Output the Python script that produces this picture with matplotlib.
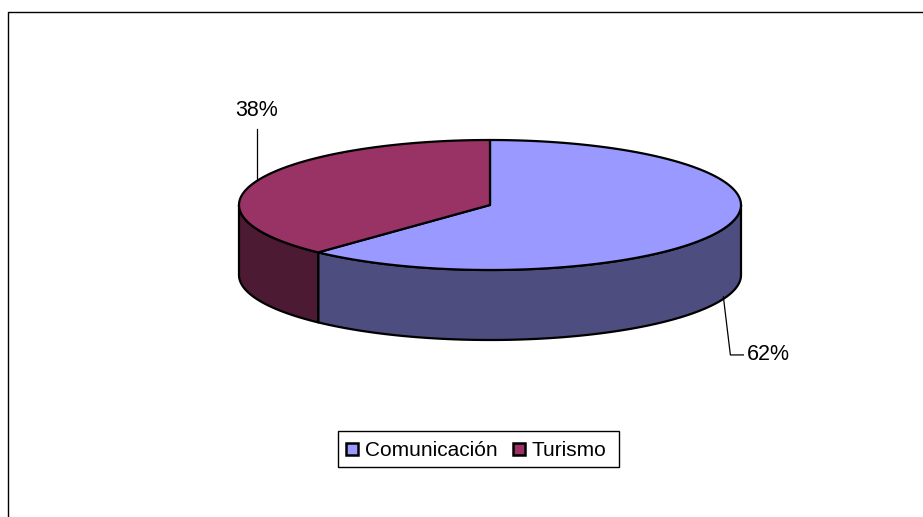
import numpy as np
import matplotlib

matplotlib.use("Agg")
import matplotlib.pyplot as plt  # noqa: E402
from matplotlib.patches import Polygon, Rectangle  # noqa: E402

plt.rcParams["font.family"] = ["Liberation Sans", "DejaVu Sans"]

categories = ["Comunicación", "Turismo"]
shares = [62, 38]
labels = ["62%", "38%"]
tops = ["#9999ff", "#993366"]
sides = ["#4d4d80", "#4d1a33"]

W, H = 923, 517
CX, CY, A, B, DEPTH = 490, 205, 251, 65, 70

fig = plt.figure(figsize=(W / 100, H / 100), dpi=100)
ax = fig.add_axes([0, 0, 1, 1])
ax.set_xlim(0, W)
ax.set_ylim(H, 0)
ax.axis("off")
fig.patch.set_facecolor("white")


def pt(theta_deg, dy=0):
    t = np.radians(theta_deg)
    return CX + A * np.sin(t), CY - B * np.cos(t) + dy


def arc(t0, t1, dy=0, n=200):
    ts = np.linspace(t0, t1, n)
    return [pt(t, dy) for t in ts]


# chart frame (extends past the image edge)
ax.plot([8, 8, W + 5], [H + 5, 12, 12], color="black", lw=1.0, zorder=1)

# slice angles, clockwise from 12 o'clock
bounds = np.concatenate([[0], np.cumsum(shares) / sum(shares) * 360])

# side walls (front half only: 90..270)
for i in range(len(shares)):
    t0, t1 = max(bounds[i], 90), min(bounds[i + 1], 270)
    if t1 <= t0:
        continue
    top_edge = arc(t0, t1)
    bot_edge = arc(t1, t0, DEPTH)
    ax.add_patch(Polygon(top_edge + bot_edge, closed=True, fc=sides[i], ec="black",
                         lw=1.6, zorder=2, joinstyle="round"))

# top faces
for i in range(len(shares)):
    verts = [(CX, CY)] + arc(bounds[i], bounds[i + 1])
    ax.add_patch(Polygon(verts, closed=True, fc=tops[i], ec="black", lw=1.6, zorder=3,
                         joinstyle="round"))

# leader lines and labels
mid0 = (bounds[0] + bounds[1]) / 2
x0, y0 = pt(mid0, DEPTH)
ax.plot([x0, x0 + 7, x0 + 20], [y0 - 2, y0 + 56, y0 + 56], color="black", lw=0.9, zorder=4)
ax.text(x0 + 24, y0 + 56, labels[0], fontsize=15.5, ha="left", va="center", zorder=5)

mid1 = (bounds[1] + bounds[2]) / 2
x1, y1 = pt(mid1)
ax.plot([x1, x1], [y1 - 2, y1 - 52], color="black", lw=0.9, zorder=4)
ax.text(x1, y1 - 71, labels[1], fontsize=15.5, ha="center", va="center", zorder=5)

# legend
ax.add_patch(Rectangle((338, 431), 281, 36, fc="white", ec="black", lw=1.0, zorder=4))
lx = [346, 513]
for i, name in enumerate(categories):
    ax.add_patch(Rectangle((lx[i], 443), 12, 12, fc=tops[i], ec="black", lw=1.8, zorder=5))
    ax.text(lx[i] + 19, 450, name, fontsize=15, ha="left", va="center", zorder=5)

fig.savefig("out.png", dpi=100)
